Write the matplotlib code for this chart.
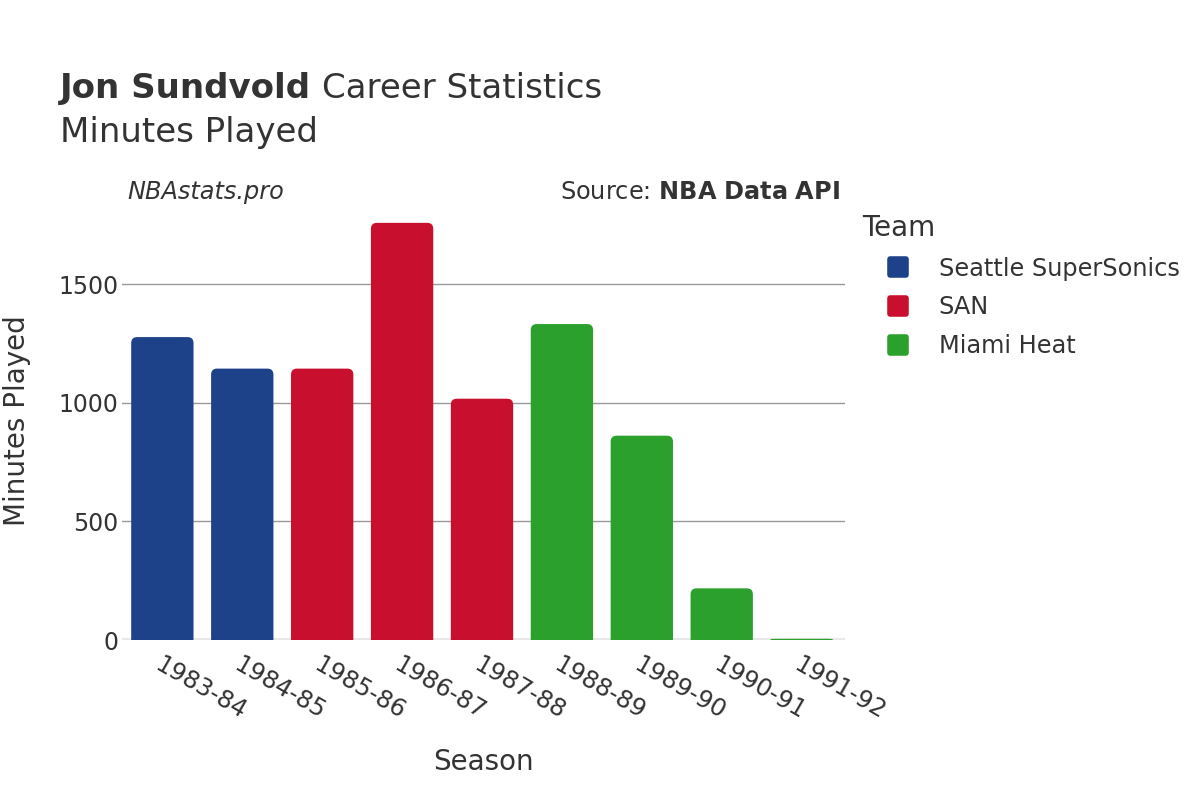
import matplotlib.pyplot as plt
from matplotlib.patches import PathPatch
from matplotlib.path import Path
from matplotlib.lines import Line2D
from matplotlib.markers import MarkerStyle

# Data
seasons = ["1983-84", "1984-85", "1985-86", "1986-87", "1987-88",
           "1988-89", "1989-90", "1990-91", "1991-92"]
minutes = [1278, 1145, 1145, 1760, 1018, 1333, 862, 218, 5]
teams = ["Seattle SuperSonics", "Seattle SuperSonics", "SAN", "SAN", "SAN",
         "Miami Heat", "Miami Heat", "Miami Heat", "Miami Heat"]

team_names = ["Seattle SuperSonics", "SAN", "Miami Heat"]
team_colors = {"Seattle SuperSonics": "#1d428a", "SAN": "#c8102e", "Miami Heat": "#2ca02c"}

text_color = "#333333"
plt.rcParams["font.family"] = ["DejaVu Sans"]

fig = plt.figure(figsize=(12, 8), dpi=100)
ax_box = [0.102, 0.2, 0.602, 0.549]
ax = fig.add_axes(ax_box)

ymax = 1853
x = range(len(seasons))
colors = [team_colors[t] for t in teams]
bars = ax.bar(x, minutes, width=0.78, color=colors)

ax.set_xlim(-0.5, len(seasons) - 0.46)
ax.set_ylim(0, ymax)

# replace plain bars with bars that have rounded top corners
px_per_x = ax_box[2] * 1200 / (len(seasons) + 0.04)
px_per_y = ax_box[3] * 800 / ymax
radius_px = 6
for b in bars:
    x0, y0, w, h = b.get_x(), b.get_y(), b.get_width(), b.get_height()
    rx = radius_px / px_per_x
    ry = min(radius_px / px_per_y, h / 2)
    x1, y1 = x0 + w, y0 + h
    verts = [(x0, y0), (x0, y1 - ry), (x0, y1), (x0 + rx, y1),
             (x1 - rx, y1), (x1, y1), (x1, y1 - ry), (x1, y0), (x0, y0)]
    codes = [Path.MOVETO, Path.LINETO, Path.CURVE3, Path.CURVE3,
             Path.LINETO, Path.CURVE3, Path.CURVE3, Path.LINETO, Path.CLOSEPOLY]
    ax.add_patch(PathPatch(Path(verts, codes), facecolor=b.get_facecolor(),
                           edgecolor="none", zorder=3))
    b.set_visible(False)

for s in ax.spines.values():
    s.set_visible(False)
ax.set_yticks([0, 500, 1000, 1500])
ax.yaxis.grid(True, color="#999999", linewidth=1)
ax.set_axisbelow(True)
ax.axhline(0, color="#e8e8e8", linewidth=3, zorder=2)
ax.tick_params(axis="both", length=0, labelsize=17, colors=text_color)
ax.tick_params(axis="y", pad=3)
ax.tick_params(axis="x", pad=9)
ax.set_xticks(list(x))
ax.set_xticklabels(seasons, rotation=-30, ha="left", rotation_mode="anchor")
for lbl in ax.get_xticklabels():
    lbl.set_fontsize(17.5)

ax.set_xlabel("Season", fontsize=20, color=text_color)
ax.set_ylabel("Minutes Played", fontsize=20, color=text_color)
ax.yaxis.set_label_coords(-0.126, 0.5)
ax.xaxis.set_label_coords(0.5, -0.245)

# title: bold name followed by regular text
t1 = fig.text(0.05, 0.889, "Jon Sundvold", fontsize=24.5, fontweight="bold",
              color=text_color, va="center")
fig.canvas.draw()
bb = t1.get_window_extent()
fig.text(bb.x1 / 1200 + 0.009, 0.889, "Career Statistics", fontsize=24.5,
         color=text_color, va="center")
fig.text(0.05, 0.834, "Minutes Played", fontsize=24.5, color=text_color, va="center")
fig.text(0.106, 0.76, "NBAstats.pro", fontsize=17.3, style="italic", color=text_color, va="center")
fig.text(0.7, 0.76, "Source: $\\bf{NBA\\ Data\\ API}$", fontsize=17.3, color=text_color,
         va="center", ha="right")

rounded_square = MarkerStyle("s", joinstyle="round")
handles = [Line2D([0], [0], marker=rounded_square, linestyle="none", markersize=12,
                  markeredgewidth=4, markerfacecolor=team_colors[t],
                  markeredgecolor=team_colors[t])
           for t in team_names]
leg = fig.legend(handles, team_names, title="Team", loc="upper left",
                 bbox_to_anchor=(0.7, 0.76), frameon=False, fontsize=17.3,
                 title_fontsize=20, handlelength=3.0, handletextpad=0.2,
                 labelspacing=0.62)
leg._legend_box.align = "left"
for t in leg.get_texts():
    t.set_color(text_color)
leg.get_title().set_color(text_color)

fig.savefig("out.png", dpi=100)
